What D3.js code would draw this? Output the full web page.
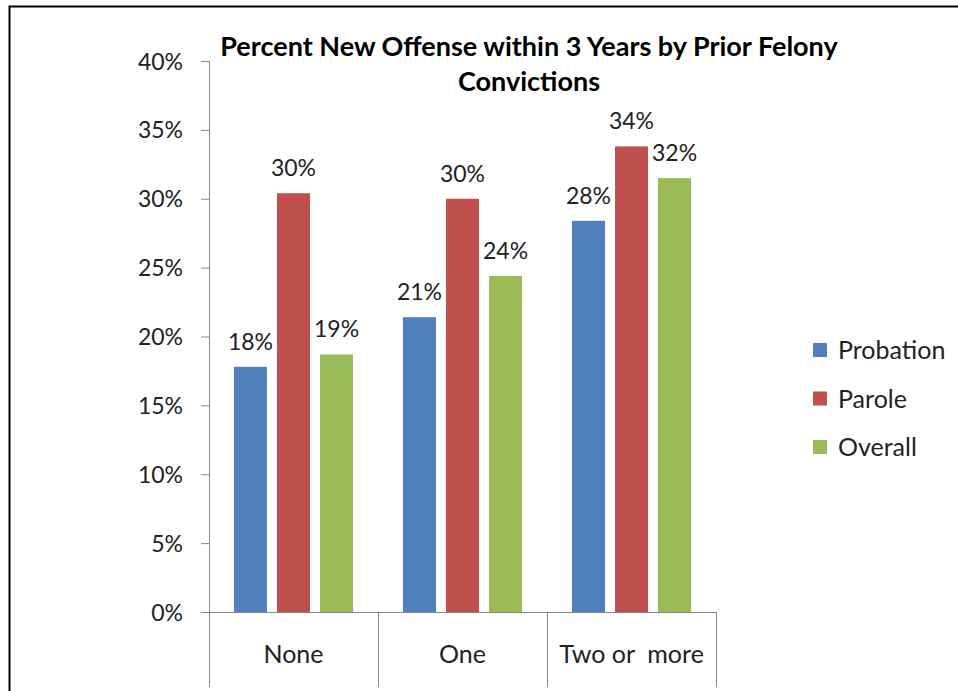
<!DOCTYPE html>
<html>
<head>
<meta charset="utf-8">
<script src="https://cdn.jsdelivr.net/npm/d3@7"></script>
<style>
  body { margin: 0; background: #fff; }
  svg text { font-family: "Lato", "Liberation Sans", sans-serif; }
</style>
</head>
<body>
<div id="vis"></div>
<script>
// data
const CATEGORIES = ["None", "One", "Two or  more"];
const SERIES = ["Probation", "Parole", "Overall"];
const PROBATION = [17.8, 21.4, 28.4];
const PAROLE = [30.4, 30.0, 33.8];
const OVERALL = [18.7, 24.4, 31.5];
const Y_TICKS = [0, 5, 10, 15, 20, 25, 30, 35, 40];
const COLORS = ["#4F81BD", "#C0504D", "#9BBB59"];

const FRAME_WIDTH = 958;
const FRAME_HEIGHT = 691;
const PLOT = {left: 209, right: 716, top: 61, bottom: 612};

const FRAME = d3.select("#vis")
                .append("svg")
                  .attr("width", FRAME_WIDTH)
                  .attr("height", FRAME_HEIGHT);

// outer frame (bottom and right are cut off)
FRAME.append("path")
     .attr("d", "M9.5," + FRAME_HEIGHT + "V6.5H" + FRAME_WIDTH)
     .attr("fill", "none")
     .attr("stroke", "#000")
     .attr("stroke-width", 2);

// rows of the table built from the arrays
const rows = CATEGORIES.map((c, i) => {
  return {cat: c, vals: [PROBATION[i], PAROLE[i], OVERALL[i]]};
});

const X_SCALE = d3.scaleBand()
                  .domain(CATEGORIES)
                  .range([PLOT.left, PLOT.right]);

const X_INNER = d3.scaleBand()
                  .domain(SERIES)
                  .range([0, X_SCALE.bandwidth()])
                  .paddingInner(0.233)
                  .paddingOuter(0.58);

const Y_SCALE = d3.scaleLinear()
                  .domain([0, 40])
                  .range([PLOT.bottom, PLOT.top]);

// bars
const groups = FRAME.selectAll(".grp")
     .data(rows)
     .enter()
     .append("g")
       .attr("transform", (d) => { return "translate(" + X_SCALE(d.cat) + ",0)"; });

groups.selectAll("rect")
      .data((d) => { return d.vals.map((v, j) => { return {s: SERIES[j], v: v, j: j}; }); })
      .enter()
      .append("rect")
        .attr("x", (d) => { return X_INNER(d.s); })
        .attr("y", (d) => { return Y_SCALE(d.v); })
        .attr("width", X_INNER.bandwidth())
        .attr("height", (d) => { return Y_SCALE(0) - Y_SCALE(d.v); })
        .attr("fill", (d) => { return COLORS[d.j]; });

// value labels
groups.selectAll(".lbl")
      .data((d) => { return d.vals.map((v, j) => { return {s: SERIES[j], v: v}; }); })
      .enter()
      .append("text")
        .attr("x", (d) => { return X_INNER(d.s) + X_INNER.bandwidth() / 2; })
        .attr("y", (d) => { return Y_SCALE(d.v) - 17; })
        .attr("text-anchor", "middle")
        .attr("font-size", "23px")
        .attr("fill", "#222")
        .text((d) => { return Math.round(d.v) + "%"; });

// y axis
const yAxis = FRAME.append("g")
     .attr("transform", "translate(" + PLOT.left + ",0)")
     .call(d3.axisLeft(Y_SCALE)
             .tickValues(Y_TICKS)
             .tickSize(8)
             .tickPadding(18)
             .tickFormat((d) => { return d + "%"; }));
yAxis.select(".domain").remove();
yAxis.selectAll("line").attr("stroke", "#868686");
yAxis.selectAll("text")
     .attr("font-size", "23px")
     .attr("fill", "#222")
     .attr("dy", "0.35em");

// y axis line continues down into the category table
FRAME.append("line")
     .attr("x1", PLOT.left + 0.5).attr("x2", PLOT.left + 0.5)
     .attr("y1", Y_SCALE(40)).attr("y2", 687)
     .attr("stroke", "#868686");

// x axis line
FRAME.append("line")
     .attr("x1", PLOT.left).attr("x2", PLOT.right + 1)
     .attr("y1", PLOT.bottom + 0.5).attr("y2", PLOT.bottom + 0.5)
     .attr("stroke", "#868686");

// category dividers
FRAME.selectAll(".div")
     .data(CATEGORIES)
     .enter()
     .append("line")
       .attr("x1", (d) => { return X_SCALE(d) + X_SCALE.bandwidth() + 0.5; })
       .attr("x2", (d) => { return X_SCALE(d) + X_SCALE.bandwidth() + 0.5; })
       .attr("y1", PLOT.bottom)
       .attr("y2", 687)
       .attr("stroke", "#868686");

// category labels
FRAME.selectAll(".cat")
     .data(CATEGORIES)
     .enter()
     .append("text")
       .attr("x", (d) => { return X_SCALE(d) + X_SCALE.bandwidth() / 2; })
       .attr("y", 663)
       .attr("text-anchor", "middle")
       .attr("font-size", "25px")
       .attr("fill", "#222")
       .style("white-space", "pre")
       .text((d) => { return d; });

// title
const title = FRAME.append("text")
     .attr("x", 529)
     .attr("y", 56)
     .attr("text-anchor", "middle")
     .attr("font-size", "27px")
     .attr("font-weight", "bold")
     .attr("fill", "#000");
title.append("tspan").attr("x", 529).text("Percent New Offense within 3 Years by Prior Felony");
title.append("tspan").attr("x", 529).attr("dy", 35).text("Convictions");

// legend
const legend = FRAME.selectAll(".leg")
     .data(SERIES)
     .enter()
     .append("g")
       .attr("transform", (d, i) => { return "translate(813," + (350 + i * 48.5) + ")"; });

legend.append("rect")
      .attr("x", 0).attr("y", -7)
      .attr("width", 14).attr("height", 14)
      .attr("fill", (d, i) => { return COLORS[i]; });

legend.append("text")
      .attr("x", 25)
      .attr("y", 9)
      .attr("font-size", "25px")
      .attr("fill", "#222")
      .text((d) => { return d; });
</script>
</body>
</html>
